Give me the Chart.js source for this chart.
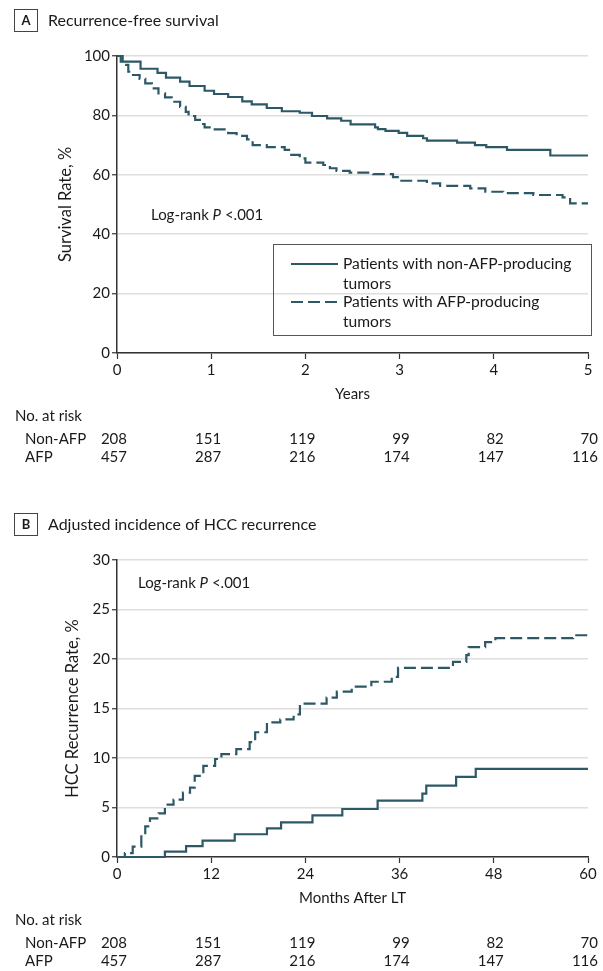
<!DOCTYPE html>
<html>
<head>
<meta charset="utf-8">
<script src="https://cdn.jsdelivr.net/npm/chart.js@4.4.1/dist/chart.umd.min.js"></script>
<style>
  html, body { margin: 0; padding: 0; background: #fff; }
  #wrap { position: relative; width: 603px; height: 971px; }
  canvas { position: absolute; left: 0; }
</style>
</head>
<body>
<div id="wrap">
  <canvas id="cA" width="603" height="480" style="top:0"></canvas>
  <canvas id="cB" width="603" height="491" style="top:480px"></canvas>
</div>
<script>
// ---------- DATA ----------
const yearTicks = [0, 1, 2, 3, 4, 5];
const monthTicks = [0, 12, 24, 36, 48, 60];
const rfsTicks = [0, 20, 40, 60, 80, 100];
const hccTicks = [0, 5, 10, 15, 20, 25, 30];

const riskNonAfp = [208, 151, 119, 99, 82, 70];
const riskAfp = [457, 287, 216, 174, 147, 116];

// Panel A: recurrence-free survival (years, %)
const rfsNonAfpYears = [0, 0.04, 0.25, 0.43, 0.52, 0.67, 0.77, 0.93, 1.03, 1.18, 1.33, 1.43, 1.59, 1.75, 1.94, 2.07, 2.23, 2.38, 2.48, 2.74, 2.77, 2.85, 2.99, 3.08, 3.25, 3.29, 3.61, 3.80, 3.92, 4.14, 4.60, 5.0];
const rfsNonAfpRate  = [100, 98.1, 95.7, 94.3, 92.7, 91.4, 89.9, 88.3, 87.2, 86.2, 84.7, 83.7, 82.5, 81.4, 80.9, 79.8, 79.0, 78.2, 77.0, 76.0, 75.4, 74.8, 74.1, 73.1, 72.3, 71.5, 70.8, 70.0, 69.3, 68.4, 66.5, 66.5];
const rfsAfpYears = [0, 0.06, 0.12, 0.17, 0.24, 0.30, 0.37, 0.44, 0.51, 0.58, 0.67, 0.73, 0.76, 0.83, 0.88, 0.93, 1.02, 1.18, 1.27, 1.38, 1.44, 1.59, 1.78, 1.85, 1.94, 2.0, 2.19, 2.26, 2.33, 2.47, 2.72, 2.93, 2.98, 3.29, 3.43, 3.75, 3.91, 4.10, 4.42, 4.73, 4.81, 5.0];
const rfsAfpRate  = [100, 97.0, 94.7, 93.6, 92.3, 90.8, 89.1, 87.4, 86.1, 84.6, 82.9, 81.2, 79.8, 78.5, 77.1, 76.0, 75.3, 74.0, 73.1, 71.9, 70.0, 69.3, 68.4, 66.7, 65.5, 64.1, 63.3, 62.2, 61.3, 60.7, 60.2, 59.2, 58.0, 57.1, 56.3, 55.4, 54.3, 53.8, 53.2, 52.4, 50.4, 50.4];

// Panel B: adjusted incidence of HCC recurrence (months, %)
const hccNonAfpMonths = [0, 6.1, 8.8, 10.9, 15.0, 19.1, 20.9, 24.9, 28.7, 33.2, 38.9, 39.4, 43.2, 45.7, 60];
const hccNonAfpRate   = [0, 0.54, 1.1, 1.66, 2.3, 2.9, 3.5, 4.2, 4.85, 5.7, 6.4, 7.2, 8.1, 8.9, 8.9];
const hccAfpMonths = [0, 1.0, 2.0, 3.1, 3.6, 4.2, 5.3, 6.1, 7.2, 8.4, 9.3, 9.9, 11.0, 12.5, 13.3, 15.2, 16.9, 17.6, 19.1, 20.8, 22.5, 23.3, 26.7, 28.0, 29.9, 32.4, 35.0, 35.8, 42.8, 44.5, 44.8, 46.9, 48.2, 58.1, 60];
const hccAfpRate   = [0, 0.4, 1.05, 2.24, 3.1, 3.9, 4.4, 5.3, 5.8, 6.5, 7.0, 8.2, 9.2, 9.9, 10.4, 10.9, 11.6, 12.6, 13.6, 13.9, 14.4, 15.5, 16.1, 16.7, 17.2, 17.7, 18.2, 19.1, 19.7, 20.4, 21.2, 21.7, 22.1, 22.4, 22.4];

const seriesNames = ['Patients with non-AFP-producing|tumors', 'Patients with AFP-producing|tumors'];

// ---------- STYLE ----------
const LINE = '#2d5866';
const FONT = 'Lato, "Noto Sans", sans-serif';
const TXT = '#1a1a1a';
const pairs = (xs, ys) => xs.map((x, i) => ({ x: x, y: ys[i] }));

function makePanel(canvasId, cfg) {
  const boxPlugin = {
    id: 'extras' + canvasId,
    afterDraw(chart) {
      const ctx = chart.ctx;
      const xs = chart.scales.x;
      const area = chart.chartArea;
      ctx.save();
      // letter box
      ctx.strokeStyle = '#444';
      ctx.lineWidth = 1;
      ctx.strokeRect(14.5, cfg.boxTop + 0.5, 23, 22);
      ctx.fillStyle = TXT;
      ctx.font = 'bold 13px ' + FONT;
      ctx.textAlign = 'center';
      ctx.textBaseline = 'middle';
      ctx.fillText(cfg.letter, 26, cfg.boxTop + 12);
      ctx.font = '16px ' + FONT;
      ctx.textAlign = 'left';
      ctx.fillText(cfg.title, 48, cfg.boxTop + 12);
      // log-rank text
      ctx.font = '15px ' + FONT;
      let lx = cfg.logX;
      const ly = cfg.logY;
      ctx.fillText('Log-rank ', lx, ly);
      lx += ctx.measureText('Log-rank ').width;
      ctx.font = 'italic 15px ' + FONT;
      ctx.fillText('P', lx, ly);
      lx += ctx.measureText('P').width;
      ctx.font = '15px ' + FONT;
      ctx.fillText(' <.001', lx, ly);
      // at-risk table
      const b = area.bottom;
      ctx.fillStyle = TXT;
      ctx.font = '15px ' + FONT;
      ctx.textAlign = 'left';
      ctx.fillText('No. at risk', 15, b + 63);
      ctx.fillText('Non-AFP', 25, b + 86);
      ctx.fillText('AFP', 25, b + 104);
      ctx.textAlign = 'right';
      cfg.ticks.forEach((t, i) => {
        const px = xs.getPixelForValue(t) + 10;
        ctx.fillText(String(riskNonAfp[i]), px, b + 86);
        ctx.fillText(String(riskAfp[i]), px, b + 104);
      });
      // legend
      if (cfg.legend) {
        const L = cfg.legend;
        ctx.strokeStyle = '#555';
        ctx.lineWidth = 1;
        ctx.strokeRect(L.x + 0.5, L.y + 0.5, L.w, L.h);
        ctx.textAlign = 'left';
        ctx.font = '15.6px ' + FONT;
        chart.data.datasets.forEach((ds, i) => {
          const yy = L.y + 20 + i * 38;
          ctx.strokeStyle = ds.borderColor;
          ctx.lineWidth = ds.borderWidth;
          ctx.setLineDash(ds.borderDash || []);
          ctx.beginPath();
          ctx.moveTo(L.x + 18, yy);
          ctx.lineTo(L.x + 65, yy);
          ctx.stroke();
          ctx.setLineDash([]);
          const parts = seriesNames[i].split('|');
          ctx.fillStyle = TXT;
          parts.forEach((p, k) => ctx.fillText(p, L.x + 70, yy + k * 20));
        });
      }
      ctx.restore();
    }
  };

  return new Chart(document.getElementById(canvasId), {
    type: 'line',
    data: {
      datasets: [
        { data: pairs(cfg.x1, cfg.y1), borderColor: LINE, borderWidth: 2.2, stepped: 'before', pointRadius: 0, fill: false, clip: false },
        { data: pairs(cfg.x2, cfg.y2), borderColor: LINE, borderWidth: 2.2, borderDash: [12, 5], stepped: 'before', pointRadius: 0, fill: false, clip: false }
      ]
    },
    options: {
      responsive: false,
      animation: false,
      devicePixelRatio: 1,
      layout: { padding: { left: cfg.padLeft, right: 15, top: cfg.padTop, bottom: cfg.padBottom } },
      plugins: { legend: { display: false }, tooltip: { enabled: false } },
      scales: {
        x: {
          type: 'linear', min: cfg.ticks[0], max: cfg.ticks[cfg.ticks.length - 1],
          afterBuildTicks: s => { s.ticks = cfg.ticks.map(v => ({ value: v })); },
          afterFit: s => { s.height = 50; },
          grid: { drawOnChartArea: false, tickLength: 6, tickColor: '#333', tickWidth: 1.2 },
          border: { color: '#333', width: 1.5 },
          ticks: { padding: 2, color: TXT, font: { family: FONT, size: 15 }, maxRotation: 0, autoSkip: false },
          title: { display: true, text: cfg.xTitle, color: TXT, font: { family: FONT, size: 15 }, padding: 0 }
        },
        y: {
          type: 'linear', min: cfg.yTicks[0], max: cfg.yTicks[cfg.yTicks.length - 1],
          afterBuildTicks: s => { s.ticks = cfg.yTicks.map(v => ({ value: v })); },
          afterFit: s => { s.width = 117 - cfg.padLeft; },
          grid: { color: '#dedede', lineWidth: 1.5, tickLength: 5, tickColor: '#333', tickWidth: 1.2 },
          border: { color: '#333', width: 1.5 },
          ticks: { padding: 2, color: TXT, font: { family: FONT, size: 15 }, autoSkip: false },
          title: { display: true, text: cfg.yTitle, color: TXT, font: { family: FONT, size: 16.5 }, padding: 0 }
        }
      }
    },
    plugins: [boxPlugin]
  });
}

makePanel('cA', {
  letter: 'A', title: 'Recurrence-free survival', boxTop: 9,
  x1: rfsNonAfpYears, y1: rfsNonAfpRate, x2: rfsAfpYears, y2: rfsAfpRate,
  ticks: yearTicks, yTicks: rfsTicks, xTitle: 'Years', yTitle: 'Survival Rate, %',
  padLeft: 56, padTop: 56, padBottom: 480 - 353 - 50,
  logX: 151, logY: 215,
  legend: { x: 273, y: 244, w: 318, h: 91 }
});

makePanel('cB', {
  letter: 'B', title: 'Adjusted incidence of HCC recurrence', boxTop: 33,
  x1: hccNonAfpMonths, y1: hccNonAfpRate, x2: hccAfpMonths, y2: hccAfpRate,
  ticks: monthTicks, yTicks: hccTicks, xTitle: 'Months After LT', yTitle: 'HCC Recurrence Rate, %',
  padLeft: 63, padTop: 80, padBottom: 491 - 377 - 50,
  logX: 138, logY: 103,
  legend: null
});
</script>
</body>
</html>
